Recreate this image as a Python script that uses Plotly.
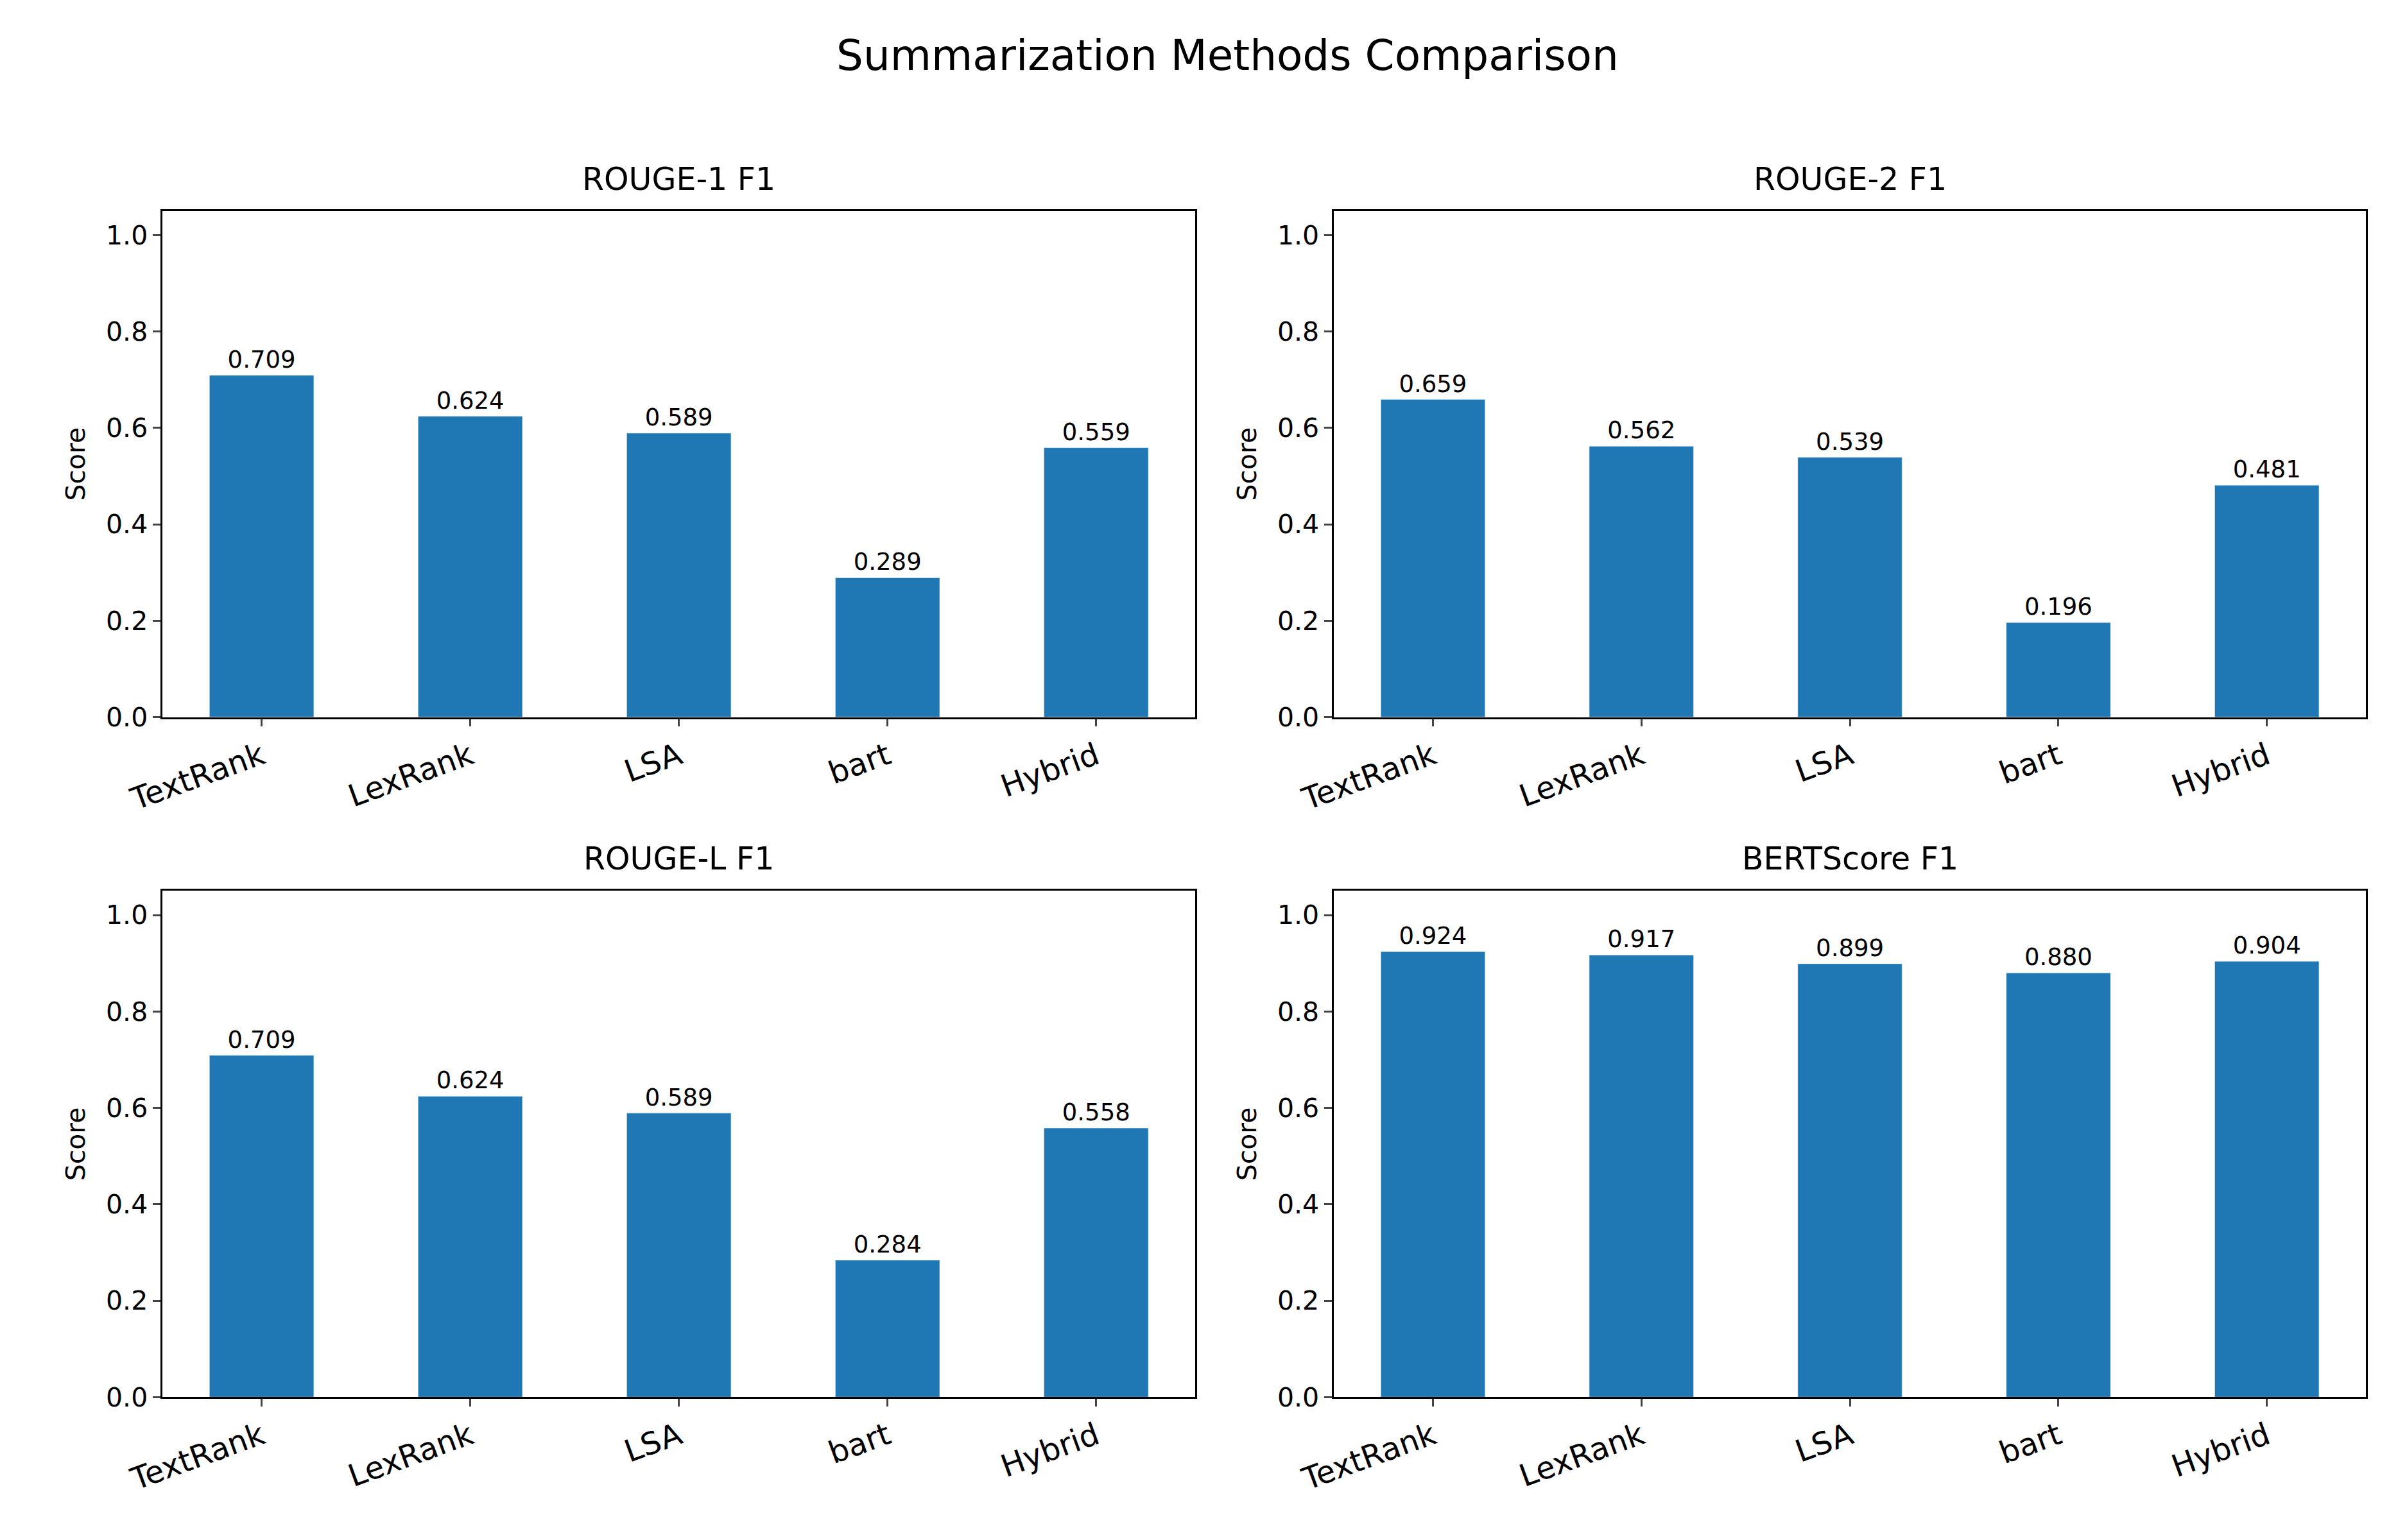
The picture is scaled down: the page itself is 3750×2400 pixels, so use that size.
import plotly.graph_objects as go

methods = ["TextRank", "LexRank", "LSA", "bart", "Hybrid"]
rouge1 = [0.709, 0.624, 0.589, 0.289, 0.559]
rouge2 = [0.659, 0.562, 0.539, 0.196, 0.481]
rougeL = [0.709, 0.624, 0.589, 0.284, 0.558]
bert = [0.924, 0.917, 0.899, 0.880, 0.904]
titles = ["ROUGE-1 F1", "ROUGE-2 F1", "ROUGE-L F1", "BERTScore F1"]
series = [rouge1, rouge2, rougeL, bert]

W, H = 3750, 2400
xdoms = [(0.0507, 0.4865), (0.545, 0.9805)]
ydoms = [(0.533, 0.865), (0.087, 0.419)]
font = "DejaVu Sans"

fig = go.Figure()
layout = dict(width=W, height=H, margin=dict(l=0, r=0, t=0, b=0),
              plot_bgcolor="white", paper_bgcolor="white", showlegend=False,
              font=dict(family=font, color="black"))
annotations = [dict(text="Summarization Methods Comparison", x=0.5, y=0.967, xref="paper", yref="paper",
                    showarrow=False, font=dict(size=66), xanchor="center", yanchor="middle")]
for i, (vals, title) in enumerate(zip(series, titles)):
    r, c = divmod(i, 2)
    n = i + 1
    xa = "xaxis" if n == 1 else f"xaxis{n}"
    ya = "yaxis" if n == 1 else f"yaxis{n}"
    fig.add_trace(go.Bar(x=list(range(len(methods))), y=vals, width=0.5, marker_color="#1f77b4",
                         text=[f"{v:.3f}" for v in vals], textposition="outside", constraintext="none",
                         cliponaxis=False, textfont=dict(size=37, color="black"),
                         xaxis=f"x{n}", yaxis=f"y{n}"))
    layout[xa] = dict(domain=xdoms[c], anchor=f"y{n}", range=[-0.475, 4.475],
                      tickvals=list(range(len(methods))), ticktext=methods, tickangle=-20,
                      tickfont=dict(size=48), ticks="outside", ticklen=12, tickwidth=2.5,
                      showline=True, mirror=True, linecolor="black", linewidth=2.5, showgrid=False)
    layout[ya] = dict(domain=ydoms[r], anchor=f"x{n}", range=[0, 1.05],
                      tickvals=[0, 0.2, 0.4, 0.6, 0.8, 1.0], tickformat=".1f",
                      tickfont=dict(size=41), ticks="outside", ticklen=12, tickwidth=2.5,
                      showline=True, mirror=True, linecolor="black", linewidth=2.5, showgrid=False,
                      zeroline=False, title=dict(text="Score", font=dict(size=41), standoff=20))
    annotations.append(dict(text=title, x=sum(xdoms[c]) / 2, y=ydoms[r][1] + 0.008, xref="paper", yref="paper",
                            showarrow=False, font=dict(size=49), xanchor="center", yanchor="bottom"))
layout["annotations"] = annotations
fig.update_layout(**layout)
fig.write_html("out.html")
